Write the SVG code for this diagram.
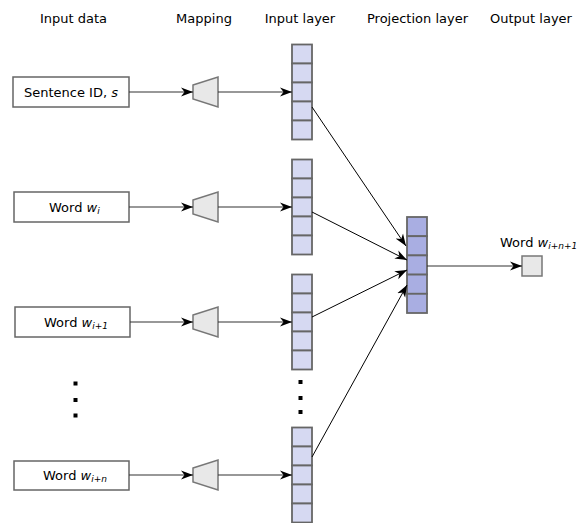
<svg xmlns="http://www.w3.org/2000/svg" width="577" height="523" viewBox="0 0 577 523">
<defs>
<marker id="arr" markerUnits="userSpaceOnUse" markerWidth="14" markerHeight="11" refX="12" refY="5.5" orient="auto">
<path d="M0,1 L12,5.5 L0,10 L3.5,5.5 Z" fill="#000"/>
</marker>
<g id="col5">
<rect x="0" y="0" width="20" height="19" class="cell"/>
<rect x="0" y="19" width="20" height="19" class="cell"/>
<rect x="0" y="38" width="20" height="19" class="cell"/>
<rect x="0" y="57" width="20" height="19" class="cell"/>
<rect x="0" y="76" width="20" height="19" class="cell"/>
</g>
<path id="trap" d="M0,8 L25,0 L25,30 L0,22 Z"/>
</defs>
<style>
text{font-family:"DejaVu Sans","Liberation Sans",sans-serif;font-size:13px;fill:#000}
.hdr{text-anchor:middle}
.box{fill:#fff;stroke:#666;stroke-width:1.5}
.cell{fill:#d6d9f2;stroke:#666;stroke-width:1.8}
.proj rect{fill:#a9aee2;stroke:#666;stroke-width:1.8}
.trap{fill:#e8e8e8;stroke:#777;stroke-width:1.5}
.h{stroke:#333;stroke-width:1.2;fill:none;marker-end:url(#arr)}
.d{stroke:#000;stroke-width:1;fill:none;marker-end:url(#arr)}
.it{font-style:italic}
.sub{font-style:italic;font-size:9px}
.dot{fill:#000}
</style>

<g id="headers">
<text class="hdr" x="73.5" y="23">Input data</text>
<text class="hdr" x="204" y="23">Mapping</text>
<text class="hdr" x="300" y="23">Input layer</text>
<text class="hdr" x="417.5" y="23">Projection layer</text>
<text class="hdr" x="531" y="23">Output layer</text>
</g>

<g id="input-sentence">
<rect class="box" x="13" y="77" width="116" height="30"/>
<text x="71" y="96.5" text-anchor="middle">Sentence ID, <tspan class="it">s</tspan></text>
</g>
<g id="input-wi">
<rect class="box" x="14" y="192" width="115" height="30"/>
<text x="49" y="211.5">Word <tspan class="it">w</tspan><tspan class="sub" dy="2">i</tspan></text>
</g>
<g id="input-wi1">
<rect class="box" x="15" y="307" width="115" height="30"/>
<text x="44" y="326.5">Word <tspan class="it">w</tspan><tspan class="sub" dy="2">i+1</tspan></text>
</g>
<g id="input-win">
<rect class="box" x="14" y="461" width="115" height="29"/>
<text x="43" y="480">Word <tspan class="it">w</tspan><tspan class="sub" dy="2">i+n</tspan></text>
</g>

<g id="map-1"><use href="#trap" class="trap" x="193" y="77"/></g>
<g id="map-2"><use href="#trap" class="trap" x="193" y="192"/></g>
<g id="map-3"><use href="#trap" class="trap" x="193" y="307"/></g>
<g id="map-4"><use href="#trap" class="trap" x="193" y="460"/></g>

<g id="inlayer-1"><use href="#col5" x="292" y="44.5"/></g>
<g id="inlayer-2"><use href="#col5" x="292" y="159.5"/></g>
<g id="inlayer-3"><use href="#col5" x="292" y="274.5"/></g>
<g id="inlayer-4"><use href="#col5" x="292" y="427.5"/></g>

<g id="ellipsis-left">
<rect class="dot" x="73.5" y="381.5" width="4" height="4"/>
<rect class="dot" x="73.5" y="398" width="4" height="4"/>
<rect class="dot" x="73.5" y="413.5" width="4" height="4"/>
</g>
<g id="ellipsis-right">
<rect class="dot" x="298.5" y="380" width="4" height="4"/>
<rect class="dot" x="298.5" y="396" width="4" height="4"/>
<rect class="dot" x="298.5" y="410" width="4" height="4"/>
</g>

<g id="projection" class="proj">
<rect x="407" y="217" width="20" height="19.2"/>
<rect x="407" y="236.2" width="20" height="19.2"/>
<rect x="407" y="255.4" width="20" height="19.2"/>
<rect x="407" y="274.6" width="20" height="19.2"/>
<rect x="407" y="293.8" width="20" height="19.2"/>
</g>

<g id="output">
<text x="500" y="247">Word <tspan class="it">w</tspan><tspan class="sub" dy="2">i+n+1</tspan></text>
<rect x="522" y="256" width="20" height="20" fill="#e8e8e8" stroke="#777" stroke-width="1.5"/>
</g>

<g id="connectors">
<line class="h" x1="129" y1="92" x2="193" y2="92"/>
<line class="h" x1="218" y1="92" x2="292" y2="92"/>
<line class="h" x1="129" y1="207" x2="193" y2="207"/>
<line class="h" x1="218" y1="207" x2="292" y2="207"/>
<line class="h" x1="130" y1="322" x2="193" y2="322"/>
<line class="h" x1="218" y1="322" x2="292" y2="322"/>
<line class="h" x1="129" y1="475" x2="193" y2="475"/>
<line class="h" x1="218" y1="475" x2="292" y2="475"/>
<line class="d" x1="312" y1="107" x2="406" y2="246"/>
<line class="d" x1="312" y1="212" x2="407" y2="260"/>
<line class="d" x1="312" y1="317" x2="407" y2="270"/>
<line class="d" x1="312" y1="457" x2="407" y2="285"/>
<line class="h" x1="427" y1="266" x2="522" y2="266"/>
</g>
</svg>
